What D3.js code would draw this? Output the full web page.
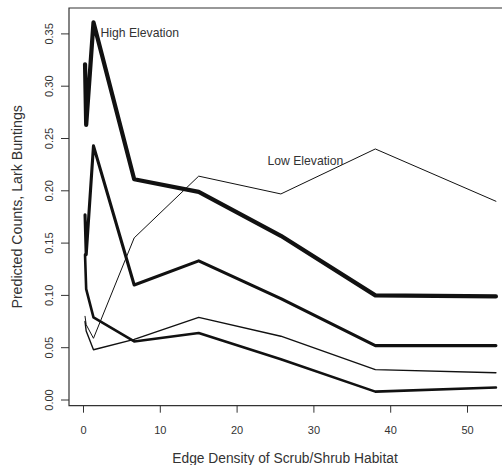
<!DOCTYPE html>
<html>
<head>
<meta charset="utf-8">
<script src="https://cdn.jsdelivr.net/npm/d3@7"></script>
<style>
  body { margin: 0; background: #fff; }
  svg { display: block; font-family: "Liberation Sans", Arial, sans-serif; }
</style>
</head>
<body>
<svg id="chart" width="502" height="465"></svg>
<script>
// edge density classes (x) and predicted counts per curve
var edgeDensity = [0.2, 0.35, 1.3, 6.6, 15, 25.7, 38, 53.7];
var highUpper = [0.321, 0.263, 0.361, 0.211, 0.199, 0.157, 0.100, 0.099];
var highMean  = [0.177, 0.139, 0.243, 0.110, 0.133, 0.097, 0.052, 0.052];
var highLower = [0.139, 0.106, 0.079, 0.056, 0.064, 0.039, 0.008, 0.012];
var lowUpper  = [0.080, 0.072, 0.059, 0.155, 0.214, 0.197, 0.240, 0.190];
var lowLower  = [0.075, 0.066, 0.048, 0.058, 0.079, 0.061, 0.029, 0.026];

var xTicks = [0, 10, 20, 30, 40, 50];
var yTicks = [0, 0.05, 0.10, 0.15, 0.20, 0.25, 0.30, 0.35];

// plot box edges (don't call these top/left, those are window globals)
var boxL = 69, boxT = 8, boxB = 405.7, boxR = 502;

var svg = d3.select('#chart');

var x = d3.scaleLinear().domain([0, 50]).range([83.5, 467.5]);
var y = d3.scaleLinear().domain([0, 0.35]).range([400, 33.9]);

// box: left, top and bottom sides (right side falls outside the picture)
svg.append('path')
  .attr('d', 'M' + boxR + ',' + boxT + 'H' + boxL + 'V' + boxB + 'H' + boxR)
  .attr('fill', 'none')
  .attr('stroke', '#333')
  .attr('stroke-width', 1.2);

// x axis ticks + labels
svg.selectAll('.xtick').data(xTicks).enter().append('line')
  .attr('x1', function(d) { return x(d); })
  .attr('x2', function(d) { return x(d); })
  .attr('y1', boxB)
  .attr('y2', boxB + 7)
  .attr('stroke', '#333')
  .attr('stroke-width', 1);
svg.selectAll('.xlab').data(xTicks).enter().append('text')
  .attr('x', function(d) { return x(d); })
  .attr('y', 434)
  .attr('text-anchor', 'middle')
  .attr('font-size', 11)
  .attr('fill', '#333')
  .text(function(d) { return d; });

// y axis ticks + labels (rotated like R's default)
svg.selectAll('.ytick').data(yTicks).enter().append('line')
  .attr('x1', boxL - 8)
  .attr('x2', boxL)
  .attr('y1', function(d) { return y(d); })
  .attr('y2', function(d) { return y(d); })
  .attr('stroke', '#333')
  .attr('stroke-width', 1);
svg.selectAll('.ylab').data(yTicks).enter().append('text')
  .attr('transform', function(d) { return 'translate(52.5,' + y(d) + ') rotate(-90)'; })
  .attr('text-anchor', 'middle')
  .attr('font-size', 11)
  .attr('fill', '#333')
  .text(function(d) { return d3.format('.2f')(d); });

// axis titles
svg.append('text')
  .attr('x', 285)
  .attr('y', 462.5)
  .attr('text-anchor', 'middle')
  .attr('font-size', 13.8)
  .attr('fill', '#333')
  .text('Edge Density of Scrub/Shrub Habitat');
svg.append('text')
  .attr('transform', 'translate(21.5,' + ((boxT + boxB) / 2) + ') rotate(-90)')
  .attr('text-anchor', 'middle')
  .attr('font-size', 14.2)
  .attr('fill', '#333')
  .text('Predicted Counts, Lark Buntings');

// curves
var line = d3.line()
  .x(function(d, i) { return x(edgeDensity[i]); })
  .y(function(d) { return y(d); });

var curves = [
  { vals: lowLower, w: 1.4 },
  { vals: lowUpper, w: 1 },
  { vals: highLower, w: 2.6 },
  { vals: highMean, w: 3.1 },
  { vals: highUpper, w: 4.2 }
];
curves.forEach(function(c) {
  svg.append('path')
    .attr('d', line(c.vals))
    .attr('fill', 'none')
    .attr('stroke', '#111')
    .attr('stroke-width', c.w)
    .attr('stroke-linejoin', 'round')
    .attr('stroke-linecap', 'round');
});

// labels
svg.append('text')
  .attr('x', 100.5)
  .attr('y', 37)
  .attr('font-size', 12.2)
  .attr('fill', '#333')
  .text('High Elevation');
svg.append('text')
  .attr('x', 267.5)
  .attr('y', 164.5)
  .attr('font-size', 12.2)
  .attr('fill', '#333')
  .text('Low Elevation');
</script>
</body>
</html>
